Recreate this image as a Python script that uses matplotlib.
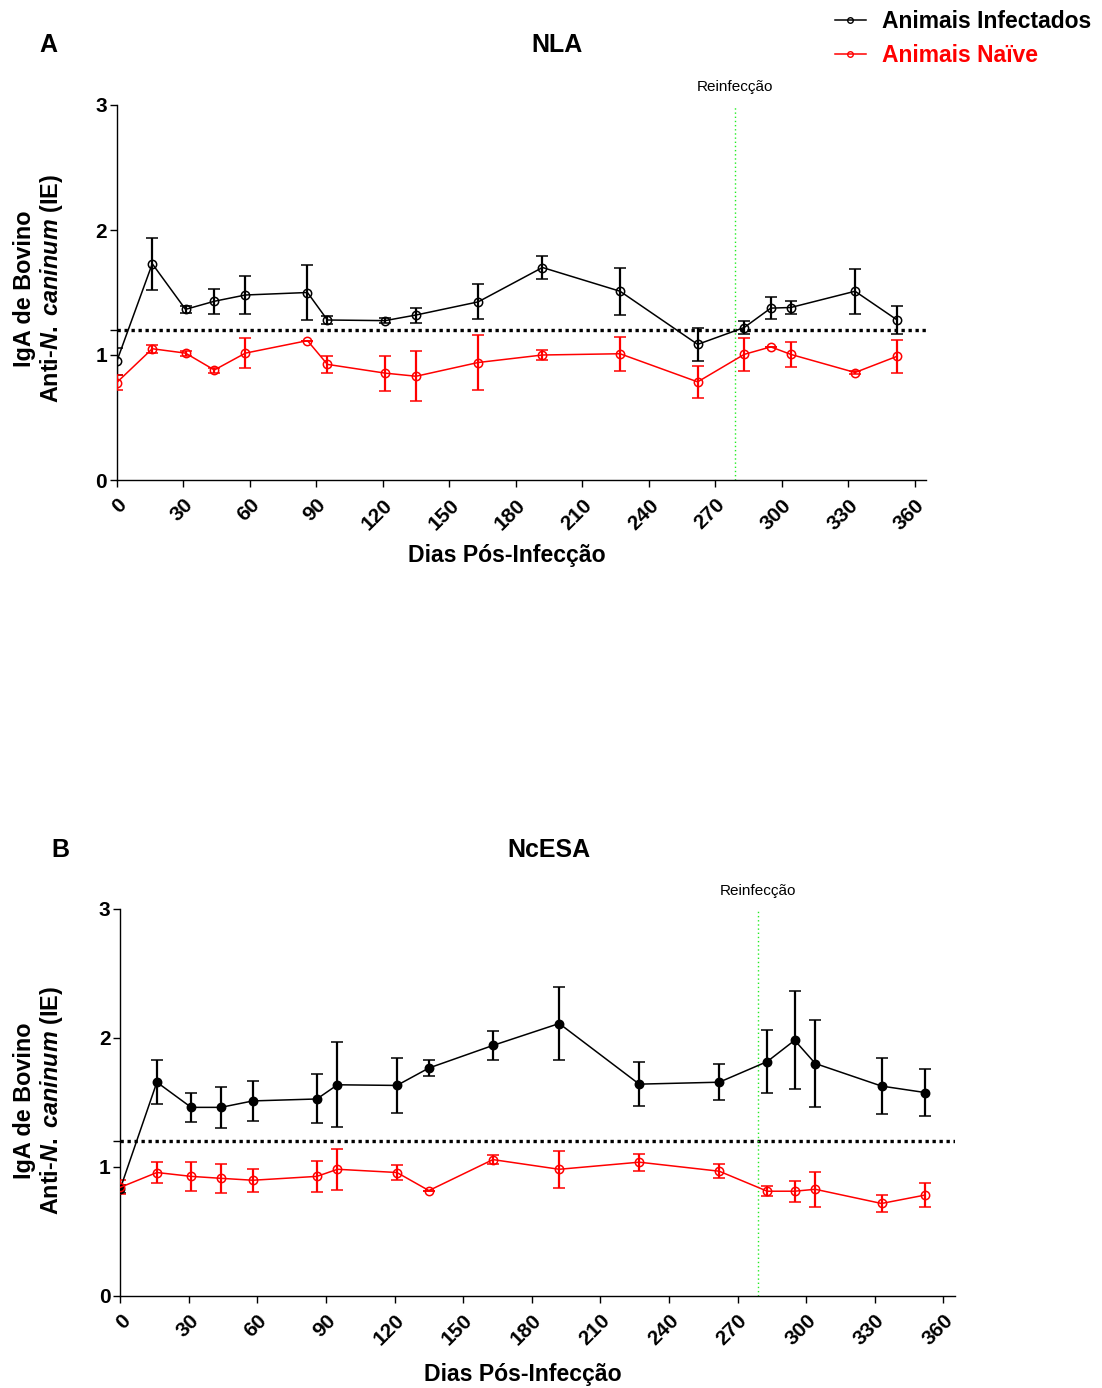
import matplotlib
matplotlib.use("Agg")
import matplotlib.pyplot as plt
from matplotlib.lines import Line2D

plt.rcParams['font.family'] = ['Liberation Sans', 'DejaVu Sans']
plt.rcParams['mathtext.fontset'] = 'custom'
plt.rcParams['mathtext.it'] = 'Liberation Sans:italic:bold'
plt.rcParams['mathtext.rm'] = 'Liberation Sans:bold'
plt.rcParams['mathtext.bf'] = 'Liberation Sans:bold'

# ---------------- data ----------------
days = [0, 16, 31, 44, 58, 86, 95, 121, 135, 163, 192, 227, 262, 283, 295, 304, 333, 352]

inf_A = [0.95, 1.73, 1.365, 1.43, 1.48, 1.50, 1.28, 1.275, 1.32, 1.425, 1.70, 1.51,
         1.085, 1.22, 1.375, 1.38, 1.51, 1.28]
inf_A_err = [0.11, 0.21, 0.03, 0.10, 0.15, 0.22, 0.03, 0.02, 0.06, 0.14, 0.09, 0.19,
             0.13, 0.05, 0.09, 0.05, 0.18, 0.11]
naive_A = [0.78, 1.05, 1.015, 0.88, 1.015, 1.115, 0.925, 0.855, 0.83, 0.94, 1.00, 1.01,
           0.785, 1.005, 1.065, 1.005, 0.86, 0.99]
naive_A_err = [0.06, 0.03, 0.02, 0.02, 0.12, 0.0, 0.07, 0.14, 0.20, 0.22, 0.04, 0.135,
               0.13, 0.135, 0.0, 0.10, 0.015, 0.13]

inf_B = [0.83, 1.655, 1.46, 1.46, 1.51, 1.525, 1.635, 1.63, 1.765, 1.94, 2.11, 1.64,
         1.655, 1.815, 1.98, 1.80, 1.625, 1.575]
inf_B_err = [0.03, 0.17, 0.11, 0.16, 0.155, 0.19, 0.33, 0.21, 0.06, 0.11, 0.285, 0.17,
             0.14, 0.245, 0.38, 0.34, 0.22, 0.185]
naive_B = [0.84, 0.955, 0.925, 0.91, 0.895, 0.925, 0.98, 0.955, 0.815, 1.055, 0.98, 1.035,
           0.965, 0.81, 0.81, 0.825, 0.715, 0.78]
naive_B_err = [0.055, 0.085, 0.11, 0.11, 0.09, 0.12, 0.16, 0.055, 0.0, 0.035, 0.145, 0.065,
               0.055, 0.04, 0.08, 0.135, 0.065, 0.09]

xticks = list(range(0, 361, 30))
yticks = [0, 1, 1.2, 2, 3]
ytick_labels = ['0', '1', '', '2', '3']
cutoff = 1.2
reinfection_day = 279

W, H = 1102, 1388
fig = plt.figure(figsize=(W / 100, H / 100), dpi=100)


def px_axes(left, right, top, bottom):
    return fig.add_axes([left / W, 1 - bottom / H, (right - left) / W, (bottom - top) / H])


def setup(ax):
    ax.set_xlim(0, 365)
    ax.set_ylim(0, 3)
    for s in ['top', 'right']:
        ax.spines[s].set_visible(False)
    for s in ['left', 'bottom']:
        ax.spines[s].set_linewidth(1.0)
    ax.set_xticks(xticks)
    ax.set_xticklabels([str(t) for t in xticks], rotation=45, ha='right',
                       rotation_mode='anchor', fontsize=15, fontweight='bold')
    ax.set_yticks(yticks)
    ax.set_yticklabels(ytick_labels, fontsize=15, fontweight='bold')
    ax.tick_params(direction='out', length=5, width=1.0, pad=2)
    ax.tick_params(axis='x', pad=6)
    ax.axhline(cutoff, color='black', lw=2.4, ls=(0, (1, 1.1)), zorder=1)
    ax.axvline(reinfection_day, color='#22ee22', lw=1.0, ls=(0, (1, 2)), zorder=1)
    ax.annotate('Reinfecção', xy=(reinfection_day, 3), xytext=(0, 8),
                textcoords='offset points', ha='center', va='bottom', fontsize=11,
                annotation_clip=False)


def series(ax, y, err, color, mfc):
    ax.errorbar(days, y, yerr=err, color=color, lw=1.1, elinewidth=1.6, capsize=4,
                capthick=1.8, marker='o', ms=6, mfc=mfc, mec=color, mew=1.1, zorder=3)


axA = px_axes(116.8, 926, 105, 480)
setup(axA)
series(axA, inf_A, inf_A_err, 'black', 'none')
series(axA, naive_A, naive_A_err, 'red', 'none')

axB = px_axes(120.3, 954.7, 908.7, 1295.7)
setup(axB)
series(axB, inf_B, inf_B_err, 'black', 'black')
series(axB, naive_B, naive_B_err, 'red', 'none')

ylab = "IgA de Bovino\nAnti-$N.\\ caninum$ (IE)"
fig.text(39 / W, 1 - 289 / H, ylab, rotation=90, ha='center', va='center',
         fontsize=16.8, fontweight='bold', linespacing=1.1)
fig.text(39 / W, 1 - 1101 / H, ylab, rotation=90, ha='center', va='center',
         fontsize=16.8, fontweight='bold', linespacing=1.1)

fig.text(507 / W, 1 - 556 / H, 'Dias Pós-Infecção', ha='center', va='center',
         fontsize=16.6, fontweight='bold')
fig.text(523 / W, 1 - 1374 / H, 'Dias Pós-Infecção', ha='center', va='center',
         fontsize=16.6, fontweight='bold')

fig.text(48 / W, 1 - 45 / H, 'A', ha='center', va='center', fontsize=18, fontweight='bold')
fig.text(557 / W, 1 - 45 / H, 'NLA', ha='center', va='center', fontsize=18, fontweight='bold')
fig.text(60 / W, 1 - 850 / H, 'B', ha='center', va='center', fontsize=18, fontweight='bold')
fig.text(549 / W, 1 - 850 / H, 'NcESA', ha='center', va='center', fontsize=18, fontweight='bold')

handles = [Line2D([], [], color='black', lw=1.1, marker='o', ms=4, mfc='none'),
           Line2D([], [], color='red', lw=1.1, marker='o', ms=4, mfc='none')]
leg = fig.legend(handles, ['Animais Infectados', 'Animais Naïve'], loc='upper left',
                 bbox_to_anchor=(835 / W, 1 - 10 / H), frameon=False, borderpad=0,
                 borderaxespad=0, handlelength=1.35, handletextpad=0.72, labelspacing=0.5,
                 prop={'size': 16.5, 'weight': 'bold'})
leg.get_texts()[1].set_color('red')

fig.savefig('out.png', dpi=100)
